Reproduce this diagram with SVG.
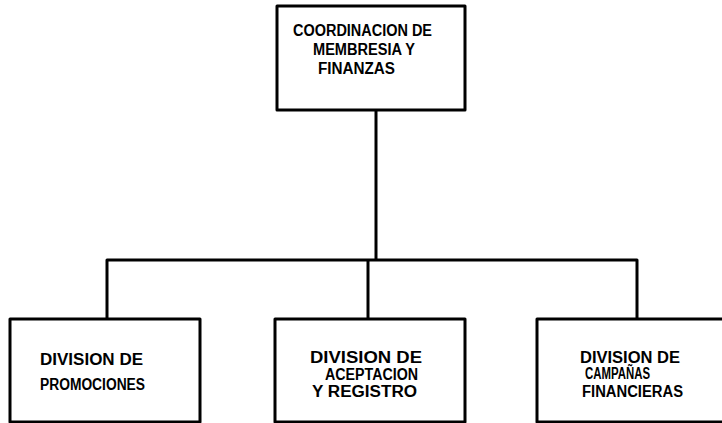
<svg xmlns="http://www.w3.org/2000/svg" width="722" height="423" viewBox="0 0 722 423">
<style>
.box{fill:#fff;stroke:#000;stroke-width:3;stroke-linejoin:round}
.ln{fill:none;stroke:#000;stroke-width:3;stroke-linejoin:round}
text{font-family:"Liberation Sans",Arial,sans-serif;font-weight:bold;font-size:16px;fill:#000}
</style>
<rect width="722" height="423" fill="#fff"/>
<g id="connectors">
<path class="ln" d="M376 110 V260"/>
<path class="ln" d="M107 319 V260 H637 V319"/>
<path class="ln" d="M368 260 V319"/>
</g>
<g id="coord">
<rect class="box" x="277" y="6" width="188" height="104"/>
<text x="293" y="36" textLength="139" lengthAdjust="spacingAndGlyphs">COORDINACION DE</text>
<text x="313" y="55" textLength="102" lengthAdjust="spacingAndGlyphs">MEMBRESIA Y</text>
<text x="318" y="74" textLength="77" lengthAdjust="spacingAndGlyphs">FINANZAS</text>
</g>
<g id="promociones">
<rect class="box" x="10" y="319" width="190" height="103"/>
<text x="40" y="365" textLength="103" lengthAdjust="spacingAndGlyphs">DIVISION DE</text>
<text x="40" y="390" textLength="105" lengthAdjust="spacingAndGlyphs">PROMOCIONES</text>
</g>
<g id="aceptacion">
<rect class="box" x="275" y="319" width="190" height="103"/>
<text x="310" y="363" textLength="112" lengthAdjust="spacingAndGlyphs">DIVISION  DE</text>
<text x="325" y="380" textLength="93" lengthAdjust="spacingAndGlyphs">ACEPTACION</text>
<text x="312" y="397" textLength="105" lengthAdjust="spacingAndGlyphs">Y REGISTRO</text>
</g>
<g id="campanas">
<rect class="box" x="537" y="319" width="190" height="103"/>
<text x="580" y="363" textLength="100" lengthAdjust="spacingAndGlyphs">DIVISION DE</text>
<text x="585" y="379" textLength="65" lengthAdjust="spacingAndGlyphs">CAMPAÑAS</text>
<text x="582" y="397" textLength="101" lengthAdjust="spacingAndGlyphs">FINANCIERAS</text>
</g>
</svg>
